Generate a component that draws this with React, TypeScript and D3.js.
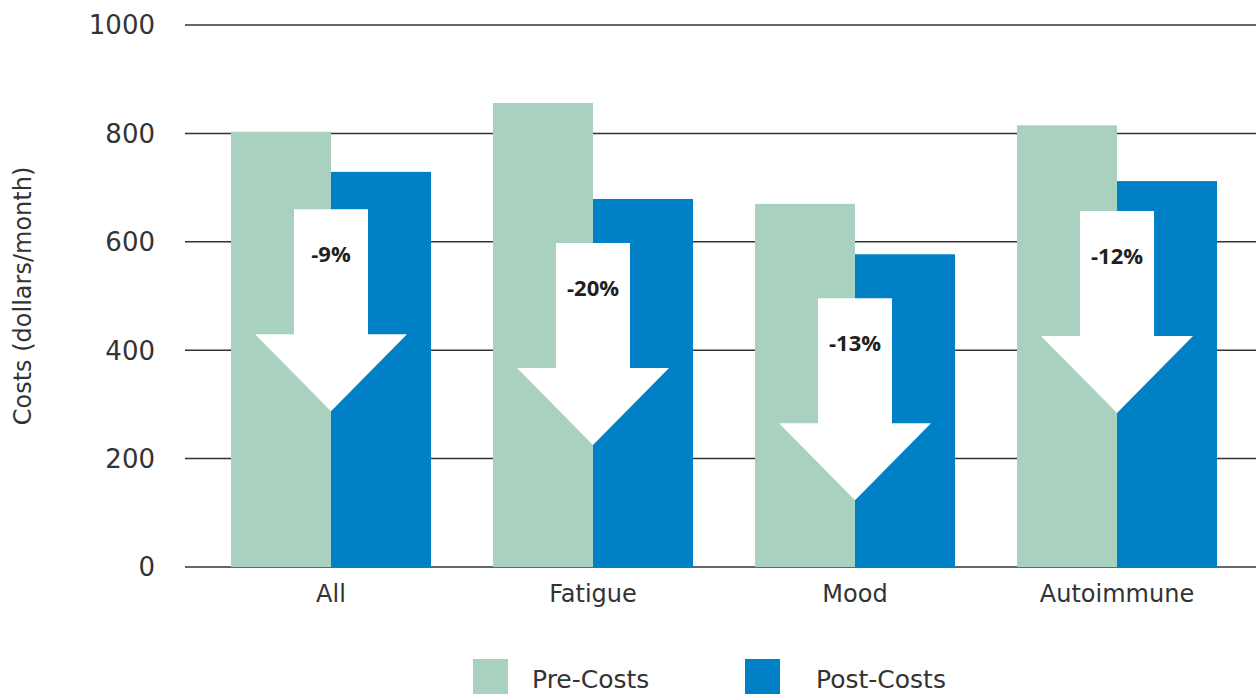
import React from 'react';
import * as d3 from 'd3';

const categories = ['All', 'Fatigue', 'Mood', 'Autoimmune'];
const preCosts = [803, 856, 670, 815];
const postCosts = [729, 679, 577, 712];
const changeLabels = ['-9%', '-20%', '-13%', '-12%'];
// top of each arrow, in dollars/month
const arrowTops = [660, 598, 496, 657];
const yTicks = [0, 200, 400, 600, 800, 1000];

const W = 1256;
const H = 694;
const FONT = '"DejaVu Sans", "Open Sans", sans-serif';
const PRE = '#a8d1bf';
const POST = '#0081c6';
const TEXT = '#333333';

export default function App() {
  const x = d3.scaleBand<string>().domain(categories).range([200, 1248]).padding(0);
  const sub = d3.scaleBand<string>().domain(['pre', 'post']).range([0, 200]).padding(0);
  const y = d3.scaleLinear().domain([0, 1000]).range([567, 25]);

  const barOffset = (x.bandwidth() - 200) / 2;

  return (
    <svg width={W} height={H} style={{ position: 'absolute', left: 0, top: 0 }} fontFamily={FONT}>
      {/* grid */}
      {yTicks.map((t) => (
        <g key={t}>
          <line x1={185} x2={W} y1={y(t)} y2={y(t)} stroke={TEXT} strokeWidth={1.5} />
          <text x={155} y={y(t)} dy="0.36em" textAnchor="end" fontSize={26} fill={TEXT}>
            {t}
          </text>
        </g>
      ))}
      <text
        transform={`translate(31,${(y(0) + y(1000)) / 2}) rotate(-90)`}
        textAnchor="middle"
        fontSize={24}
        fill={TEXT}
      >
        Costs (dollars/month)
      </text>

      {/* bars */}
      {categories.map((c, i) => {
        const x0 = (x(c) ?? 0) + barOffset;
        return (
          <g key={c}>
            <rect x={x0 + (sub('pre') ?? 0)} y={y(preCosts[i])} width={sub.bandwidth()} height={y(0) - y(preCosts[i])} fill={PRE} />
            <rect x={x0 + (sub('post') ?? 0)} y={y(postCosts[i])} width={sub.bandwidth()} height={y(0) - y(postCosts[i])} fill={POST} />
          </g>
        );
      })}

      {/* arrows */}
      {categories.map((c, i) => {
        const cx = (x(c) ?? 0) + x.bandwidth() / 2;
        const top = y(arrowTops[i]);
        const path = d3.path();
        path.moveTo(cx - 37, top);
        path.lineTo(cx + 37, top);
        path.lineTo(cx + 37, top + 125);
        path.lineTo(cx + 76, top + 125);
        path.lineTo(cx, top + 202);
        path.lineTo(cx - 76, top + 125);
        path.lineTo(cx - 37, top + 125);
        path.closePath();
        return (
          <g key={c}>
            <path d={path.toString()} fill="#ffffff" />
            <text
              x={cx}
              y={top + 53}
              textAnchor="middle"
              fontSize={22}
              fontWeight="bold"
              fontFamily='"Open Sans", sans-serif'
              fill="#231f20"
            >
              {changeLabels[i]}
            </text>
          </g>
        );
      })}

      {/* x labels */}
      {categories.map((c) => (
        <text key={c} x={(x(c) ?? 0) + x.bandwidth() / 2} y={602} textAnchor="middle" fontSize={24} fill={TEXT}>
          {c}
        </text>
      ))}

      {/* legend */}
      <rect x={473} y={659} width={35} height={35} fill={PRE} />
      <text x={532} y={688} fontSize={25} fill={TEXT}>Pre-Costs</text>
      <rect x={745} y={659} width={35} height={35} fill={POST} />
      <text x={816} y={688} fontSize={25} fill={TEXT}>Post-Costs</text>
    </svg>
  );
}
